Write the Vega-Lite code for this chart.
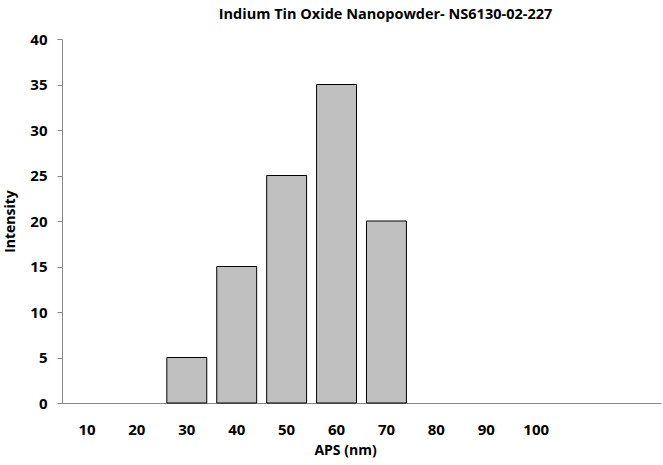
{
  "$schema": "https://vega.github.io/schema/vega-lite/v6.json",
  "autosize": "none",
  "width": 599,
  "height": 364,
  "padding": {"left": 62, "top": 39, "right": 2, "bottom": 62},
  "background": "white",
  "title": {
    "text": "Indium Tin Oxide Nanopowder- NS6130-02-227",
    "font": "Open Sans",
    "fontSize": 14.5,
    "fontWeight": "bold",
    "color": "#000000",
    "anchor": "middle",
    "dx": 24,
    "offset": 10
  },
  "config": {
    "view": {"stroke": null},
    "axis": {"grid": false, "domainColor": "#888888", "tickColor": "#888888", "labelFont": "Open Sans", "labelFontWeight": "bold", "labelFontSize": 15, "labelColor": "#000000", "titleFont": "Open Sans", "titleFontWeight": "bold", "titleFontSize": 14, "titleColor": "#000000"}
  },
  "data": {
    "values": [
      {"aps": "10", "intensity": 0},
      {"aps": "20", "intensity": 0},
      {"aps": "30", "intensity": 5},
      {"aps": "40", "intensity": 15},
      {"aps": "50", "intensity": 25},
      {"aps": "60", "intensity": 35},
      {"aps": "70", "intensity": 20},
      {"aps": "80", "intensity": 0},
      {"aps": "90", "intensity": 0},
      {"aps": "100", "intensity": 0}
    ]
  },
  "mark": {"type": "bar", "fill": "#c0c0c0", "stroke": "#000000", "strokeWidth": 1},
  "encoding": {
    "x": {
      "field": "aps",
      "type": "ordinal",
      "sort": null,
      "scale": {"domain": ["10","20","30","40","50","60","70","80","90","100","110","120"], "paddingInner": 0.2, "paddingOuter": 0.1},
      "axis": {"title": "APS (nm)", "labelAngle": 0, "ticks": false, "labelPadding": 19, "titlePadding": 6, "titleX": 283, "labelExpr": "datum.value == '110' || datum.value == '120' ? '' : datum.label"}
    },
    "y": {
      "field": "intensity",
      "type": "quantitative",
      "scale": {"domain": [0, 40]},
      "axis": {"title": "Intensity", "values": [0,5,10,15,20,25,30,35,40], "tickSize": 5, "labelPadding": 10, "titlePadding": 12}
    },
    "strokeOpacity": {"condition": {"test": "datum.intensity == 0", "value": 0}, "value": 1}
  }
}
